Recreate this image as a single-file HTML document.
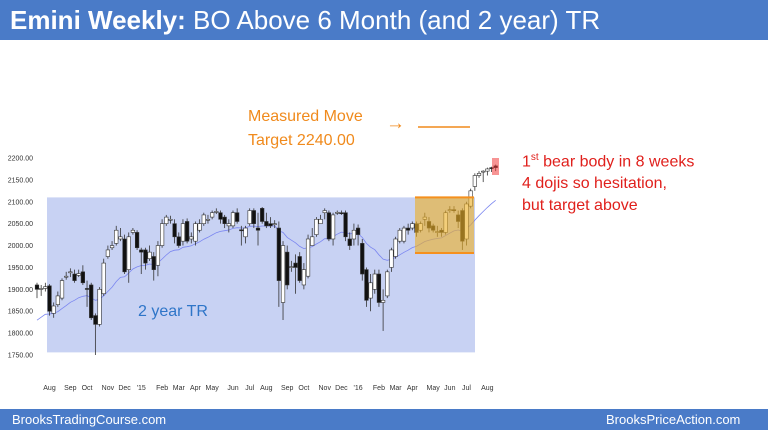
<!DOCTYPE html>
<html><head><meta charset="utf-8">
<style>
body{margin:0;width:768px;height:430px;overflow:hidden;background:#fff;font-family:"Liberation Sans",sans-serif;position:relative}
#hdr{position:absolute;left:0;top:0;width:768px;height:40px;background:#4a7bc8;color:#fff;font-size:26px;line-height:40px;padding-left:10px;box-sizing:border-box}
#ftr{position:absolute;left:0;top:409px;width:768px;height:21px;background:#4a7bc8;color:#fff;font-size:13px;line-height:21px}
.t{position:absolute;white-space:nowrap}
</style></head><body>
<div id="hdr"><b>Emini Weekly:</b> BO Above 6 Month (and 2 year) TR</div>
<svg id="chart" width="768" height="430" style="position:absolute;left:0;top:0"></svg>
<div class="t" style="left:248px;top:108px;color:#f08a1c;font-size:16px">Measured Move</div>
<div class="t" style="left:248px;top:132px;color:#f08a1c;font-size:16px">Target 2240.00</div>
<div class="t" style="left:386px;top:113px;color:#f08a1c;font-size:19px">→</div>
<div class="t" style="left:522px;top:147px;color:#e0201c;font-size:16px;line-height:22px">1<sup style="font-size:10px">st</sup> bear body in 8 weeks<br>4 dojis so hesitation,<br>but target above</div>
<div id="ftr"><span class="t" style="left:12px">BrooksTradingCourse.com</span><span class="t" style="left:606px">BrooksPriceAction.com</span></div>
<script>
const opens=[1910,1900,1902,1908,1845,1865,1880,1928,1938,1935,1932,1940,1902,1910,1840,1820,1890,1975,1995,2005,2015,2015,1945,2030,2030,1990,1990,1970,1975,1955,2000,2050,2060,2050,2020,2010,2055,2015,2010,2035,2050,2060,2065,2076,2075,2065,2045,2045,2075,2036,2020,2050,2080,2040,2085,2055,2050,2050,2040,1870,1985,1950,1960,1975,1910,1930,2000,2025,2050,2075,2075,2015,2075,2075,2075,2015,2015,2040,2005,1945,1880,1900,1935,1870,1885,1950,1975,2010,2010,2040,2040,2050,2035,2060,2055,2045,2030,2035,2030,2080,2082,2070,2080,2015,2090,2135,2160,2168,2170,2178,2182];
const closes=[1900,1902,1906,1850,1862,1885,1920,1930,1940,1920,1936,1915,1900,1835,1820,1900,1960,1990,2000,2035,2020,1940,2020,2035,1995,1985,1960,1985,1945,2000,2050,2065,2060,2020,2000,2050,2010,2020,2050,2050,2070,2060,2075,2078,2060,2050,2050,2075,2055,2034,2040,2080,2050,2035,2055,2045,2045,2050,1920,2000,1910,1952,1950,1920,1945,2015,2020,2060,2060,2080,2015,2070,2076,2074,2020,2000,2035,2025,1935,1875,1915,1935,1870,1875,1940,1990,2015,2035,2040,2035,2050,2030,2050,2065,2040,2035,2032,2030,2075,2082,2080,2055,2010,2095,2125,2160,2165,2170,2175,2176,2178];
const highs=[1915,1910,1915,1912,1870,1895,1925,1940,1948,1945,1945,1955,1920,1915,1845,1905,1970,2000,2010,2045,2040,2025,2030,2040,2035,1995,1995,2000,1985,2010,2060,2070,2068,2060,2030,2060,2062,2030,2055,2060,2075,2070,2080,2085,2080,2070,2060,2080,2085,2045,2045,2085,2085,2075,2088,2075,2065,2058,2055,2010,2000,1965,1980,1985,1960,2025,2040,2065,2070,2085,2080,2075,2080,2080,2080,2030,2050,2048,2015,1950,1935,1945,1945,1900,1945,1995,2020,2040,2045,2050,2055,2055,2055,2075,2065,2050,2045,2040,2080,2090,2090,2080,2085,2100,2130,2165,2170,2172,2178,2180,2185];
const lows=[1880,1885,1895,1840,1835,1860,1875,1922,1928,1915,1928,1910,1860,1830,1750,1815,1885,1970,1990,2000,2010,1935,1915,2025,1990,1935,1945,1965,1920,1930,1995,2045,2050,2005,1995,2000,2005,2005,2000,2030,2045,2050,2060,2072,2050,2040,2030,2040,2050,2000,2005,2045,2040,2000,2050,2040,2040,2040,1860,1830,1900,1940,1890,1915,1900,1925,2010,2020,2050,2060,2010,2000,2070,2070,2010,1990,2000,2000,1920,1860,1850,1890,1860,1805,1880,1940,1970,2005,2005,2025,2035,2020,2030,2045,2030,2030,2020,2020,2025,2075,2075,2040,1990,2000,2085,2125,2155,2145,2160,2168,2170];
const tickVals=[2200,2150,2100,2050,2000,1950,1900,1850,1800,1750];
const monthLabels=["Aug","Sep","Oct","Nov","Dec","'15","Feb","Mar","Apr","May","Jun","Jul","Aug","Sep","Oct","Nov","Dec","'16","Feb","Mar","Apr","May","Jun","Jul","Aug"];
const monthWeek=[3,8,12,17,21,25,30,34,38,42,47,51,55,60,64,69,73,77,82,86,90,95,99,103,108];

const NS="http://www.w3.org/2000/svg";
const svg=document.getElementById('chart');
const y=p=>158+(2200-p)*0.4378;
const x=i=>37+i*4.17;
function mk(t,a){const e=document.createElementNS(NS,t);for(const k in a)e.setAttribute(k,a[k]);svg.appendChild(e);return e;}
let r=mk('rect',{x:47,y:y(2110),width:428,height:y(1756)-y(2110),fill:'#c8d2f3'});


let t=mk('text',{x:138,y:316,fill:'#2e75c8','font-size':16,'font-family':'Liberation Sans, sans-serif'});t.textContent='2 year TR';


tickVals.forEach(v=>{const e=mk('text',{x:33,y:y(v)+2.5,'text-anchor':'end','font-size':7,fill:'#333','font-family':'Liberation Sans, sans-serif'});e.textContent=v.toFixed(2);

});
monthLabels.forEach((m,k)=>{const e=mk('text',{x:x(monthWeek[k]),y:390,'text-anchor':'middle','font-size':7,fill:'#333','font-family':'Liberation Sans, sans-serif'});e.textContent=m;

});
let ma=1822,pts=[];
closes.forEach((c,i)=>{ma=ma+(c-ma)*2/21;pts.push(x(i).toFixed(1)+','+y(ma).toFixed(1));});
let pl=mk('polyline',{points:pts.join(' '),fill:'none',stroke:'#7b86f0','stroke-width':0.8});


closes.forEach((c,i)=>{
 const o=opens[i],cx=x(i);
 const w=mk('line',{x1:cx,x2:cx,y1:y(highs[i]),y2:y(lows[i]),stroke:'#333','stroke-width':0.8});
 
 
 const top=y(Math.max(o,c)),h=Math.max(1,Math.abs(y(o)-y(c)));
 const b=mk('rect',{x:cx-1.8,y:top,width:3.6,height:h,fill:c<o?'#111':'#fff',stroke:'#333','stroke-width':0.6});
 
 
});
let ob=mk('rect',{x:415,y:y(2110),width:59,height:y(1983)-y(2110),fill:'rgba(236,176,40,0.62)'});


[2110,1983].forEach(v=>{const l=mk('line',{x1:415,x2:474,y1:y(v),y2:y(v),stroke:'#f5901e','stroke-width':2});

});
let rb=mk('rect',{x:492,y:158,width:7,height:17,fill:'rgba(240,60,60,0.55)'});


let tl=mk('line',{x1:418,x2:470,y1:127,y2:127,stroke:'#f08a1c','stroke-width':1.5});


</script>
</body></html>
